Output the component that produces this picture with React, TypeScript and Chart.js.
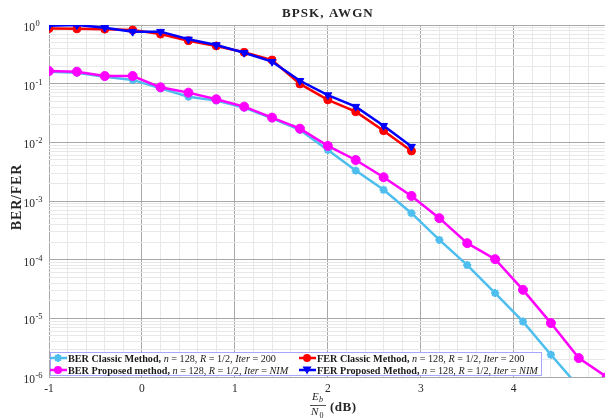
import React, { useEffect, useRef } from 'react';
import { Chart, registerables } from 'chart.js';

Chart.register(...registerables);

// ---- data ----
const snrDb = [-1, -0.7, -0.4, -0.1, 0.2, 0.5, 0.8, 1.1, 1.4, 1.7, 2.0, 2.3, 2.6, 2.9, 3.2, 3.5, 3.8, 4.1, 4.4, 4.7, 5.0];
const berClassic = [0.16, 0.154, 0.131, 0.116, 0.0834, 0.06, 0.0514, 0.039, 0.0257, 0.0163, 0.0074, 0.0033, 0.00155, 0.00062, 0.000217, 8.1e-5, 2.7e-5, 8.8e-6, 2.4e-6, 6.8e-7];
const berProposed = [0.164, 0.16, 0.135, 0.135, 0.0867, 0.0703, 0.0542, 0.0406, 0.0264, 0.0171, 0.0087, 0.005, 0.00254, 0.00122, 0.00051, 0.000191, 0.000102, 3.06e-5, 8.3e-6, 2.1e-6, 1.0e-6];
const ferClassic = [0.87, 0.86, 0.85, 0.82, 0.7, 0.54, 0.44, 0.342, 0.253, 0.099, 0.053, 0.0333, 0.0158, 0.00713];
const ferProposed = [0.97, 1.0, 0.9, 0.77, 0.77, 0.57, 0.456, 0.337, 0.237, 0.112, 0.064, 0.0406, 0.0192, 0.00845];

const xTickLabels = [-1, 0, 1, 2, 3, 4];
const yDecadeExponents = [0, -1, -2, -3, -4, -5, -6];
const chartTitle = 'BPSK, AWGN';
const yTitle = 'BER/FER';

const COLORS = {
  berClassic: '#4DBEEE',
  berProposed: '#FF00FF',
  ferClassic: '#FF0000',
  ferProposed: '#0000FF',
};

const SERIF = '"Liberation Serif", "Times New Roman", serif';

type Seg = { t: string; s: 'b' | 'i' | 'r' };
const legendRows: { color: string; marker: string; segs: Seg[] }[][] = [
  [
    {
      color: COLORS.berClassic,
      marker: 'star',
      segs: [
        { t: 'BER Classic Method,', s: 'b' }, { t: ' ', s: 'r' }, { t: 'n', s: 'i' }, { t: ' = 128, ', s: 'r' },
        { t: 'R', s: 'i' }, { t: ' = 1/2, ', s: 'r' }, { t: 'Iter', s: 'i' }, { t: ' = 200', s: 'r' },
      ],
    },
    {
      color: COLORS.ferClassic,
      marker: 'circle',
      segs: [
        { t: 'FER Classic Method,', s: 'b' }, { t: ' ', s: 'r' }, { t: 'n', s: 'i' }, { t: ' = 128, ', s: 'r' },
        { t: 'R', s: 'i' }, { t: ' = 1/2, ', s: 'r' }, { t: 'Iter', s: 'i' }, { t: ' = 200', s: 'r' },
      ],
    },
  ],
  [
    {
      color: COLORS.berProposed,
      marker: 'circle',
      segs: [
        { t: 'BER Proposed method,', s: 'b' }, { t: ' ', s: 'r' }, { t: 'n', s: 'i' }, { t: ' = 128, ', s: 'r' },
        { t: 'R', s: 'i' }, { t: ' = 1/2, ', s: 'r' }, { t: 'Iter', s: 'i' }, { t: ' = ', s: 'r' }, { t: 'NIM', s: 'i' },
      ],
    },
    {
      color: COLORS.ferProposed,
      marker: 'tri',
      segs: [
        { t: 'FER Proposed Method,', s: 'b' }, { t: ' ', s: 'r' }, { t: 'n', s: 'i' }, { t: ' = 128, ', s: 'r' },
        { t: 'R', s: 'i' }, { t: ' = 1/2, ', s: 'r' }, { t: 'Iter', s: 'i' }, { t: ' = ', s: 'r' }, { t: 'NIM', s: 'i' },
      ],
    },
  ],
];

const toPoints = (vals: number[]) => vals.map((v, i) => ({ x: snrDb[i], y: v }));

function fontFor(s: string, size: number) {
  if (s === 'b') return `bold ${size}px ${SERIF}`;
  if (s === 'i') return `italic ${size}px ${SERIF}`;
  return `${size}px ${SERIF}`;
}

function drawMarker(ctx: CanvasRenderingContext2D, kind: string, x: number, y: number, color: string) {
  ctx.save();
  ctx.fillStyle = color;
  ctx.strokeStyle = color;
  if (kind === 'circle') {
    ctx.beginPath();
    ctx.arc(x, y, 4, 0, Math.PI * 2);
    ctx.fill();
  } else if (kind === 'tri') {
    ctx.beginPath();
    ctx.moveTo(x - 4.5, y - 3.5);
    ctx.lineTo(x + 4.5, y - 3.5);
    ctx.lineTo(x, y + 4.5);
    ctx.closePath();
    ctx.fill();
  } else {
    ctx.lineWidth = 2.2;
    const r = 4;
    ctx.beginPath();
    ctx.moveTo(x - r, y); ctx.lineTo(x + r, y);
    ctx.moveTo(x, y - r); ctx.lineTo(x, y + r);
    const d = r * 0.7;
    ctx.moveTo(x - d, y - d); ctx.lineTo(x + d, y + d);
    ctx.moveTo(x - d, y + d); ctx.lineTo(x + d, y - d);
    ctx.stroke();
  }
  ctx.restore();
}

const annotationPlugin = {
  id: 'annotations',
  afterDraw(chart: any) {
    const ctx: CanvasRenderingContext2D = chart.ctx;
    const xs = chart.scales.x;
    const ys = chart.scales.y;
    const area = chart.chartArea;
    ctx.save();
    ctx.fillStyle = '#262626';
    ctx.textBaseline = 'alphabetic';

    // title
    ctx.font = `bold 13px ${SERIF}`;
    (ctx as any).letterSpacing = '1.1px';
    ctx.textAlign = 'center';
    ctx.fillText(chartTitle, (area.left + area.right) / 2 + 1, 17);
    (ctx as any).letterSpacing = '0px';

    // y tick labels 10^k
    for (const k of yDecadeExponents) {
      const y = ys.getPixelForValue(Math.pow(10, k));
      ctx.font = `11.5px ${SERIF}`;
      ctx.textAlign = 'right';
      ctx.fillText('10', 35, y + 6);
      ctx.font = `8.5px ${SERIF}`;
      ctx.textAlign = 'left';
      ctx.fillText(String(k), 35.5, y + 1);
    }

    // x tick labels
    ctx.font = `11.5px ${SERIF}`;
    ctx.textAlign = 'center';
    for (const v of xTickLabels) {
      const x = xs.getPixelForValue(v);
      ctx.fillText(String(v), x, area.bottom + 15);
    }

    // y title
    ctx.save();
    ctx.translate(21, (area.top + area.bottom) / 2 - 4);
    ctx.rotate(-Math.PI / 2);
    ctx.font = `bold 14px ${SERIF}`;
    (ctx as any).letterSpacing = '0.8px';
    ctx.textAlign = 'center';
    ctx.fillText(yTitle, 0, 0);
    ctx.restore();

    // x title: Eb/N0 (dB)
    const fx = 318;
    ctx.textAlign = 'left';
    ctx.font = `italic 11px ${SERIF}`;
    ctx.fillText('E', fx - 6, 400);
    ctx.font = `italic 8px ${SERIF}`;
    ctx.fillText('b', fx + 1, 402);
    ctx.font = `italic 11px ${SERIF}`;
    ctx.fillText('N', fx - 7, 415);
    ctx.font = `8px ${SERIF}`;
    ctx.fillText('0', fx + 1.5, 417.5);
    ctx.strokeStyle = '#262626';
    ctx.lineWidth = 0.8;
    ctx.beginPath();
    ctx.moveTo(fx - 8, 405.5);
    ctx.lineTo(fx + 8, 405.5);
    ctx.stroke();
    ctx.font = `bold 13px ${SERIF}`;
    (ctx as any).letterSpacing = '0.5px';
    ctx.fillText('(dB)', 330, 411);
    (ctx as any).letterSpacing = '0px';

    // legend
    const bx = 50, by = 352, bw = 492, bh = 24;
    ctx.fillStyle = '#ffffff';
    ctx.fillRect(bx, by, bw, bh);
    ctx.strokeStyle = '#a6a6ff';
    ctx.lineWidth = 1;
    ctx.strokeRect(bx + 0.5, by + 0.5, bw - 1, bh - 1);
    const colX = [58, 307];
    const rowY = [358, 370];
    legendRows.forEach((row, ri) => {
      row.forEach((item, ci) => {
        const cx = colX[ci];
        const cy = rowY[ri];
        ctx.strokeStyle = item.color;
        ctx.lineWidth = 2.5;
        ctx.beginPath();
        ctx.moveTo(cx - 8, cy);
        ctx.lineTo(cx + 9, cy);
        ctx.stroke();
        drawMarker(ctx, item.marker, cx, cy, item.color);
        let tx = cx + 10;
        ctx.fillStyle = '#1a1a1a';
        ctx.textAlign = 'left';
        for (const seg of item.segs) {
          ctx.font = fontFor(seg.s, 10.2);
          ctx.fillText(seg.t, tx, cy + 3.5);
          tx += ctx.measureText(seg.t).width;
        }
      });
    });
    ctx.restore();
  },
};

export default function App() {
  const canvasRef = useRef<HTMLCanvasElement | null>(null);

  useEffect(() => {
    const canvas = canvasRef.current;
    if (!canvas) return;

    const lineDs = (label: string, vals: number[], color: string, style: any, radius: number, order: number, rotation = 0) => ({
      label,
      data: toPoints(vals),
      borderColor: color,
      backgroundColor: color,
      pointBackgroundColor: color,
      pointBorderColor: color,
      borderWidth: 2.5,
      pointBorderWidth: style === 'star' ? 2.2 : 1,
      pointStyle: style,
      pointRadius: radius,
      pointRotation: rotation,
      tension: 0,
      order,
    });

    const chart = new Chart(canvas, {
      type: 'line',
      data: {
        datasets: [
          lineDs('BER Classic Method', berClassic, COLORS.berClassic, 'star', 4, 3),
          lineDs('BER Proposed method', berProposed, COLORS.berProposed, 'circle', 4.5, 2),
          lineDs('FER Classic Method', ferClassic, COLORS.ferClassic, 'circle', 4, 1),
          lineDs('FER Proposed Method', ferProposed, COLORS.ferProposed, 'triangle', 4.5, 0, 180),
        ],
      },
      options: {
        responsive: false,
        animation: false,
        devicePixelRatio: 1,
        layout: { padding: { left: 49, top: 25, right: 0, bottom: 41 } },
        plugins: {
          legend: { display: false },
          title: { display: false },
          tooltip: { enabled: false },
        },
        scales: {
          x: {
            type: 'linear',
            min: -1,
            max: 4.98,
            afterBuildTicks: (scale: any) => {
              const t = [];
              for (let i = 0; i <= 29; i++) {
                const v = Math.round((-1 + i * 0.2) * 10) / 10;
                t.push({ value: v, major: Math.abs(v - Math.round(v)) < 1e-9 });
              }
              scale.ticks = t;
            },
            afterFit: (scale: any) => { scale.height = 0; },
            ticks: { display: false },
            border: { display: false },
            grid: {
              drawTicks: false,
              color: (c: any) => (c.tick && c.tick.major ? '#a8a8a8' : '#e8e8e8'),
              lineWidth: 1,
            },
          },
          y: {
            type: 'logarithmic',
            min: 1e-6,
            max: 1,
            afterBuildTicks: (scale: any) => {
              const t = [];
              for (let e = -6; e < 0; e++) {
                for (let s = 1; s <= 9; s++) {
                  t.push({ value: s * Math.pow(10, e), major: s === 1 });
                }
              }
              t.push({ value: 1, major: true });
              scale.ticks = t;
            },
            afterFit: (scale: any) => { scale.width = 0; },
            ticks: { display: false },
            border: { display: false },
            grid: {
              drawTicks: false,
              color: (c: any) => (c.tick && c.tick.major ? '#a8a8a8' : '#e8e8e8'),
              lineWidth: 1,
            },
          },
        },
      } as any,
      plugins: [annotationPlugin],
    });

    return () => chart.destroy();
  }, []);

  return (
    <div style={{ position: 'absolute', left: 0, top: 0, width: 611, height: 418, background: '#ffffff' }}>
      <canvas ref={canvasRef} width={611} height={418} style={{ display: 'block', width: 611, height: 418 }} />
    </div>
  );
}
